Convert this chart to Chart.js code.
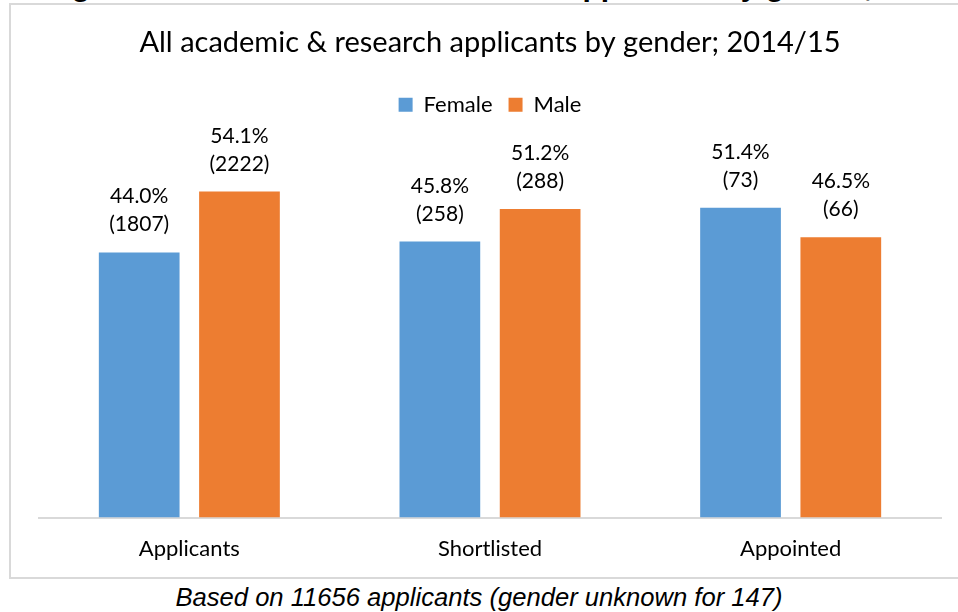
<!DOCTYPE html>
<html>
<head>
<meta charset="utf-8">
<script src="https://cdnjs.cloudflare.com/ajax/libs/Chart.js/4.4.1/chart.umd.min.js"></script>
<style>
	html, body {
		margin: 0;
		overflow: hidden;
	}
	body {
		background: #fff;
		width: 958px;
		height: 612px;
		position: relative;
	}
	#topline {					/* figure heading, cut off by the top edge */
		position: absolute;
		left: 45px;
		top: -29px;
		font: bold 30px "Liberation Sans", Arial, sans-serif;
		line-height: 30px;
		white-space: nowrap;
		color: #000;
	}
	#box {
		position: absolute;
		left: 9px;
		top: 3px;
		width: 1200px;
		height: 572px;
		border: 2px solid #d9d9d9;
		border-right: none;
	}
	#myChart {
		position: absolute;
		left: 0;
		top: 0;
	}
	#caption {
		position: absolute;
		left: 0;
		top: 582px;
		width: 958px;
		text-align: center;
		font: italic 25.6px "Liberation Sans", Arial, sans-serif;
		line-height: 30px;
		color: #000;
	}
</style>
</head>
<body>

<div id="topline">Figure 1: All academic and research applicants by gender, 2014/15</div>
<div id="box"><canvas id="myChart" width="942" height="567"></canvas></div>
<div id="caption">Based on 11656 applicants (gender unknown for 147)</div>

<script>
const stages = ['Applicants', 'Shortlisted', 'Appointed'];
const femalePct = [44.0, 45.8, 51.4];
const malePct = [54.1, 51.2, 46.5];
const femaleCount = [1807, 258, 73];
const maleCount = [2222, 288, 66];

// two line labels above each bar: percentage and (count)
const barLabels = {
	id: 'barLabels',
	afterDatasetsDraw(chart) {
		const ctx = chart.ctx;
		ctx.save();
		ctx.font = '21px Lato';
		ctx.fillStyle = '#000';
		ctx.textAlign = 'center';
		ctx.textBaseline = 'alphabetic';
		chart.data.datasets.forEach((ds, i) => {
			chart.getDatasetMeta(i).data.forEach((bar, j) => {
				ctx.fillText(ds.data[j].toFixed(1) + '%', bar.x, bar.y - 49);
				ctx.fillText('(' + ds.counts[j] + ')', bar.x, bar.y - 21);
			});
		});
		ctx.restore();
	}
};

new Chart('myChart', {
	type: 'bar',
	data: {
		labels: stages,
		datasets: [
			{ label: 'Female', data: femalePct, counts: femaleCount, backgroundColor: '#5B9BD5' },
			{ label: 'Male', data: malePct, counts: maleCount, backgroundColor: '#ED7D31' }
		]
	},
	options: {
		responsive: false,
		animation: false,
		devicePixelRatio: 1,
		categoryPercentage: 0.667,
		barPercentage: 0.805,
		layout: { padding: { left: 28, right: 12, top: 0, bottom: 0 } },
		scales: {
			x: {
				grid: { display: false },
				border: { color: '#d9d9d9', width: 2 },
				ticks: { color: '#000', font: { family: 'Lato', size: 22 }, padding: 10 }
			},
			y: { display: false, min: 0, max: 65 }
		},
		plugins: {
			title: {
				display: true,
				text: 'All academic & research applicants by gender; 2014/15',
				color: '#000',
				font: { family: 'Lato', size: 29, weight: 'normal' },
				padding: { top: 20, bottom: 18 }
			},
			legend: {
				position: 'top',
				labels: { color: '#000', font: { family: 'Lato', size: 22 }, boxWidth: 14, boxHeight: 14, padding: 16 }
			},
			tooltip: { enabled: false }
		}
	},
	plugins: [barLabels]
});
</script>
</body>
</html>
